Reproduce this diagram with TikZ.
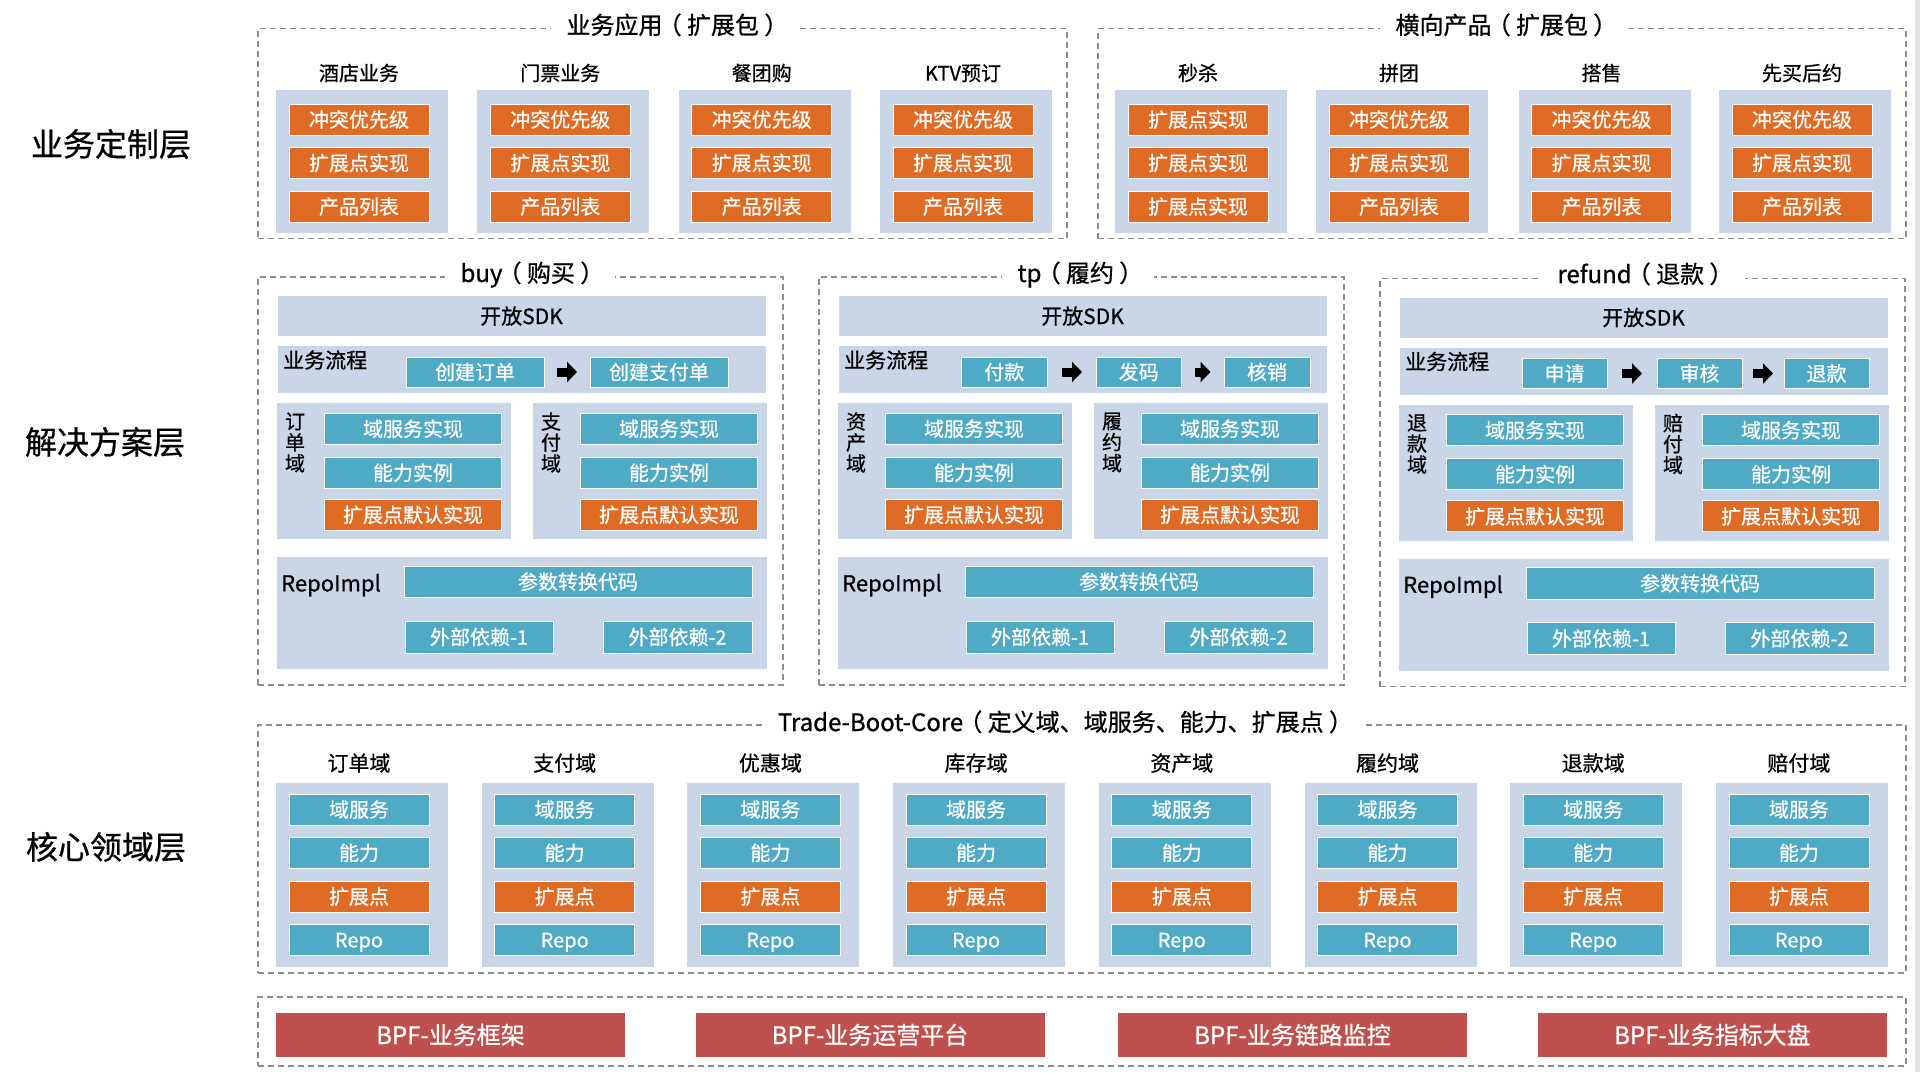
\documentclass[tikz,border=0pt]{standalone}
\usepackage{fontspec}
\setmainfont{Noto Sans CJK SC}[RawFeature={embolden=0.7}]
\usetikzlibrary{arrows.meta,calc}
\definecolor{lightbox}{HTML}{C8D6E8}
\definecolor{orangebox}{HTML}{E06B25}
\definecolor{tealbox}{HTML}{4FAAC6}
\definecolor{redbox}{HTML}{C0504D}
\definecolor{dashgray}{HTML}{8C8C8C}
\definecolor{stripgray}{HTML}{E4E4E4}
\newcommand{\fsz}[1]{\fontsize{#1pt}{#1pt}\selectfont}
\newcommand{\lpar}{\kern-0.2em（\kern0.22em}
\newcommand{\rpar}{\kern0.22em）\kern-0.2em}

\tikzset{
 base/.style={inner sep=0pt, outer sep=0pt, anchor=north west, font=\fsz{20}, text height=17.6pt, text depth=2.4pt},
 lightbx/.style={base, fill=lightbox},
 obx/.style={base, fill=orangebox, draw=white, line width=0.8pt, text=white},
 tbx/.style={base, fill=tealbox, draw=white, line width=0.8pt, text=white},
 rbx/.style={base, fill=redbox, text=white, font=\fsz{24}, text height=21pt, text depth=3pt},
 dashbox/.style={base, draw=dashgray, line width=1.3pt, dash pattern=on 6pt off 4pt},
 ttl/.style={fill=white, inner xsep=16pt, inner ysep=3pt, font=\fsz{24}, text height=21pt, text depth=3pt},
 lbl/.style={inner sep=0pt, font=\fsz{20}, text height=17.6pt, text depth=2.4pt},
 vlbl/.style={inner sep=0pt, align=center, font=\fontsize{20pt}{21pt}\selectfont},
 layer/.style={inner sep=0pt, font=\fsz{32}},
 flowarr/.style={line width=9pt, -{Triangle[length=10pt,width=20pt]}, shorten <=#1, shorten >=#1},
 flowarr/.default=14pt,
}

\newcommand{\solpanel}[5]{%
 \begin{scope}[shift={(#2,#3)}]
 \node[dashbox, minimum width=525pt, minimum height=408pt] (#1box) at (0,277) {};
 \node[lightbx, minimum width=488pt, minimum height=40pt, font=\fsz{21}, text height=18.5pt, text depth=2.5pt] (#1sdk) at (19.5,296) {开放SDK};
 \node[lightbx, minimum width=488pt, minimum height=47pt] (#1flow) at (19.5,346) {};
 \node[lbl, anchor=west, font=\fsz{21}, text height=18.5pt, text depth=2.5pt] (#1flowlbl) at (25,360) {业务流程};
 \node[lightbx, minimum width=234pt, minimum height=136pt] (#1da) at (19,403) {};
 \node[lightbx, minimum width=234pt, minimum height=136pt] (#1db) at (275,403) {};
 \node[vlbl] (#1dalbl) at (37,442.5) {#4};
 \node[vlbl] (#1dblbl) at (293,442.5) {#5};
 \foreach \s/\dx in {a/0,b/256}{
  \node[tbx, minimum width=177pt, minimum height=31pt] (#1\s1) at (66.5+\dx,413.3) {域服务实现};
  \node[tbx, minimum width=177pt, minimum height=31pt] (#1\s2) at (66.5+\dx,457.3) {能力实例};
  \node[obx, minimum width=177pt, minimum height=31pt] (#1\s3) at (66.5+\dx,499.3) {扩展点默认实现};
 }
 \node[lightbx, minimum width=490pt, minimum height=112pt] (#1repo) at (19,557) {};
 \node[lbl, anchor=west, font=\fsz{22}, text height=19.4pt, text depth=2.6pt] (#1repolbl) at (23,583) {RepoImpl};
 \node[tbx, minimum width=348pt, minimum height=31.5pt] (#1conv) at (146,566) {参数转换代码};
 \node[tbx, minimum width=148pt, minimum height=32pt] (#1dep1) at (147,621) {外部依赖-1};
 \node[tbx, minimum width=149pt, minimum height=32pt] (#1dep2) at (345,621) {外部依赖-2};
 \end{scope}}

\begin{document}
\begin{tikzpicture}[x=1pt,y=-1pt]
\fill[white] (0,0) rectangle (1920,1072);
\useasboundingbox (0,0) rectangle (1920,1072);
\fill[stripgray] (1915,0) rectangle (1920,1072);

% layer labels
\node[layer] (L1) at (111,144) {业务定制层};
\node[layer] (L2) at (105,442) {解决方案层};
\node[layer] (L3) at (106,847) {核心领域层};

% ---------- business customization layer
\node[dashbox, minimum width=809pt, minimum height=210pt] (appA) at (258,28.5) {};
\node[dashbox, minimum width=808pt, minimum height=210pt] (appB) at (1098,28.5) {};
\node[ttl] (appAt) at (675,25) {业务应用\lpar 扩展包\rpar};
\node[ttl] (appBt) at (1504,25) {横向产品\lpar 扩展包\rpar};

\foreach \i/\lab/\xx/\ta/\tb/\tc in {
 a1/酒店业务/276/冲突优先级/扩展点实现/产品列表,
 a2/门票业务/477.3/冲突优先级/扩展点实现/产品列表,
 a3/餐团购/678.7/冲突优先级/扩展点实现/产品列表,
 a4/KTV预订/880/冲突优先级/扩展点实现/产品列表,
 b1/秒杀/1115/扩展点实现/扩展点实现/扩展点实现,
 b2/拼团/1316/冲突优先级/扩展点实现/产品列表,
 b3/搭售/1518.5/冲突优先级/扩展点实现/产品列表,
 b4/先买后约/1719/冲突优先级/扩展点实现/产品列表}{
 \node[lightbx, minimum width=172pt, minimum height=143pt] (g\i) at (\xx,90) {};
 \node[lbl] (g\i-lbl) at (\xx+83,73) {\lab};
 \node[obx, minimum width=140pt, minimum height=31pt] (g\i-1) at (\xx+13,104) {\ta};
 \node[obx, minimum width=140pt, minimum height=31pt] (g\i-2) at (\xx+13,147.5) {\tb};
 \node[obx, minimum width=140pt, minimum height=31pt] (g\i-3) at (\xx+13,191) {\tc};
}

% ---------- solution layer
\solpanel{buy}{258}{0}{订\\单\\域}{支\\付\\域}
\solpanel{tp}{819}{0}{资\\产\\域}{履\\约\\域}
\solpanel{rf}{1380}{1.5}{退\\款\\域}{赔\\付\\域}
\node[ttl] (buyt) at (530,273) {buy\lpar 购买\rpar};
\node[ttl] (tpt) at (1078,273) {tp\lpar 履约\rpar};
\node[ttl] (rft) at (1643,274) {refund\lpar 退款\rpar};

\node[tbx, minimum width=138pt, minimum height=30pt] (buyf1) at (406,357) {创建订单};
\node[tbx, minimum width=138pt, minimum height=30pt] (buyf2) at (590,357) {创建支付单};
\draw[flowarr=13pt] (buyf1) -- (buyf2);

\node[tbx, minimum width=86.5pt, minimum height=30pt] (tpf1) at (961,357) {付款};
\node[tbx, minimum width=85.5pt, minimum height=30pt] (tpf2) at (1096,357) {发码};
\node[tbx, minimum width=86pt, minimum height=30pt] (tpf3) at (1224,357) {核销};
\draw[flowarr=14pt] (tpf1) -- (tpf2);
\draw[flowarr=13.5pt] (tpf2) -- (tpf3);

\node[tbx, minimum width=85pt, minimum height=30pt] (rff1) at (1522,358.5) {申请};
\node[tbx, minimum width=85pt, minimum height=30pt] (rff2) at (1657,358.5) {审核};
\node[tbx, minimum width=85pt, minimum height=30pt] (rff3) at (1784,358.5) {退款};
\draw[flowarr=15pt] (rff1) -- (rff2);
\draw[flowarr=11pt] (rff2) -- (rff3);

% ---------- core domain layer
\node[dashbox, minimum width=1648pt, minimum height=248pt] (core) at (258,725) {};
\node[ttl] (coret) at (1063,722) {Trade-Boot-Core\lpar 定义域、域服务、能力、扩展点\rpar};
\foreach \i/\lab in {0/订单域,1/支付域,2/优惠域,3/库存域,4/资产域,5/履约域,6/退款域,7/赔付域}{
 \pgfmathsetmacro{\xx}{276+205.7*\i}
 \node[lightbx, minimum width=172pt, minimum height=184pt] (c\i) at (\xx,783) {};
 \node[lbl, font=\fsz{21}, text height=18.5pt, text depth=2.5pt] (c\i-lbl) at (\xx+83,763) {\lab};
 \node[tbx, minimum width=140pt, minimum height=31pt] (c\i-1) at (\xx+13,794) {域服务};
 \node[tbx, minimum width=140pt, minimum height=31pt] (c\i-2) at (\xx+13,837.3) {能力};
 \node[obx, minimum width=140pt, minimum height=31pt] (c\i-3) at (\xx+13,881) {扩展点};
 \node[tbx, minimum width=140pt, minimum height=31pt] (c\i-4) at (\xx+13,924.3) {Repo};
}

% ---------- BPF
\node[dashbox, minimum width=1648pt, minimum height=69pt] (bpf) at (258,997) {};
\foreach \i/\xx/\lab in {1/276/BPF-业务框架,2/695.5/BPF-业务运营平台,3/1118/BPF-业务链路监控,4/1538/BPF-业务指标大盘}{
 \node[rbx, minimum width=349pt, minimum height=44pt] (bpf\i) at (\xx,1013) {\lab};
}
\end{tikzpicture}
\end{document}
